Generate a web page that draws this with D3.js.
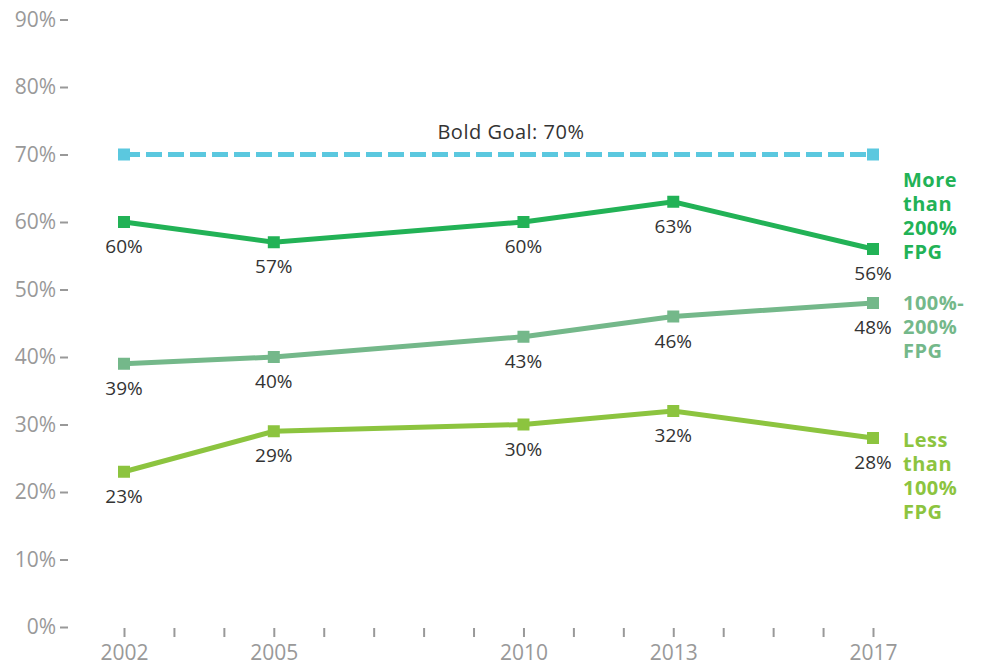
<!DOCTYPE html>
<html>
<head>
<meta charset="utf-8">
<script src="https://cdn.jsdelivr.net/npm/d3@7"></script>
<style>
  body { margin: 0; background: #fff; }
  svg { display: block; font-family: "Open Sans", "Lato", sans-serif; }
</style>
</head>
<body>
<svg width="992" height="666"></svg>
<script>
// data
const years = [2002, 2005, 2010, 2013, 2017];
const above200 = [60, 57, 60, 63, 56];
const between100and200 = [39, 40, 43, 46, 48];
const below100 = [23, 29, 30, 32, 28];
const goal = 70;
const yTicks = [0, 10, 20, 30, 40, 50, 60, 70, 80, 90];

const series = [
  { values: above200, color: "#22b256", label: ["More", "than", "200%", "FPG"] },
  { values: between100and200, color: "#74b88a", label: ["100%-", "200%", "FPG"] },
  { values: below100, color: "#8cc43f", label: ["Less", "than", "100%", "FPG"] }
];

// where the first line of each series name sits, relative to its last point
const labelShift = [-62, 7, 9];

const svg = d3.select("svg");

// prettier-ignore
const x = d3.scaleLinear()
    .domain([2002, 2017])
    .range([124, 873])

// prettier-ignore
const y = d3.scaleLinear()
    .domain([0, 90])
    .range([627, 19.5])

// y axis
// prettier-ignore
const yAxis = svg.append("g")
    .attr("transform", "translate(68,0)")
    .call(d3.axisLeft(y).tickValues(yTicks).tickSize(8).tickPadding(4).tickFormat(d => d + "%"))

yAxis.select(".domain").remove();
yAxis.selectAll("line").attr("stroke", "#999").attr("stroke-width", 2);
yAxis.selectAll("text")
  .attr("fill", "#999")
  .attr("font-size", 21)
  .attr("font-family", "Open Sans, sans-serif");

// x axis, a tick every year, labels only for survey years
// prettier-ignore
const xAxis = svg.append("g")
    .attr("transform", "translate(0,628)")
    .call(d3.axisBottom(x).tickValues(d3.range(2002, 2018)).tickSize(9).tickPadding(11)
      .tickFormat(d => years.includes(d) ? d : ""))

xAxis.select(".domain").remove();
xAxis.selectAll("line").attr("stroke", "#999").attr("stroke-width", 2);
xAxis.selectAll("text")
  .attr("fill", "#999")
  .attr("font-size", 21)
  .attr("font-family", "Open Sans, sans-serif")
  .attr("dy", "0.55em");

// goal line
svg.append("line")
  .attr("x1", x(2002)).attr("x2", x(2017))
  .attr("y1", y(goal)).attr("y2", y(goal))
  .attr("stroke", "#5bc8df")
  .attr("stroke-width", 5)
  .attr("stroke-dasharray", "16 6");

svg.selectAll("rect.goal")
  .data([2002, 2017])
  .join("rect")
  .attr("class", "goal")
  .attr("x", d => x(d) - 6)
  .attr("y", y(goal) - 6)
  .attr("width", 12)
  .attr("height", 12)
  .attr("fill", "#5bc8df");

svg.append("text")
  .attr("x", x(2009.75))
  .attr("y", y(goal) - 16)
  .attr("text-anchor", "middle")
  .attr("fill", "#333")
  .attr("font-size", 20)
  .attr("letter-spacing", 0.5)
  .text("Bold Goal: " + goal + "%");

// prettier-ignore
const line = d3.line()
    .x((d, i) => x(years[i]))
    .y(d => y(d))

series.forEach((s, k) => {
  const g = svg.append("g");

  g.append("path")
    .datum(s.values)
    .attr("d", line)
    .attr("fill", "none")
    .attr("stroke", s.color)
    .attr("stroke-width", 5);

  g.selectAll("rect")
    .data(s.values)
    .join("rect")
    .attr("x", (d, i) => x(years[i]) - 6)
    .attr("y", d => y(d) - 6)
    .attr("width", 12)
    .attr("height", 12)
    .attr("fill", s.color);

  g.selectAll("text.value")
    .data(s.values)
    .join("text")
    .attr("class", "value")
    .attr("x", (d, i) => x(years[i]))
    .attr("y", d => y(d) + 31)
    .attr("text-anchor", "middle")
    .attr("fill", "#333")
    .attr("font-size", 19)
    .text(d => d + "%");

  // series name at the right end
  const last = s.values[s.values.length - 1];
  const top = y(last) + labelShift[k];
  g.append("text")
    .attr("x", 903)
    .attr("fill", s.color)
    .attr("font-size", 20)
    .attr("font-weight", "bold")
    .attr("letter-spacing", 0.5)
    .selectAll("tspan")
    .data(s.label)
    .join("tspan")
    .attr("x", 903)
    .attr("y", (d, i) => top + i * 24)
    .text(d => d);
});
</script>
</body>
</html>
